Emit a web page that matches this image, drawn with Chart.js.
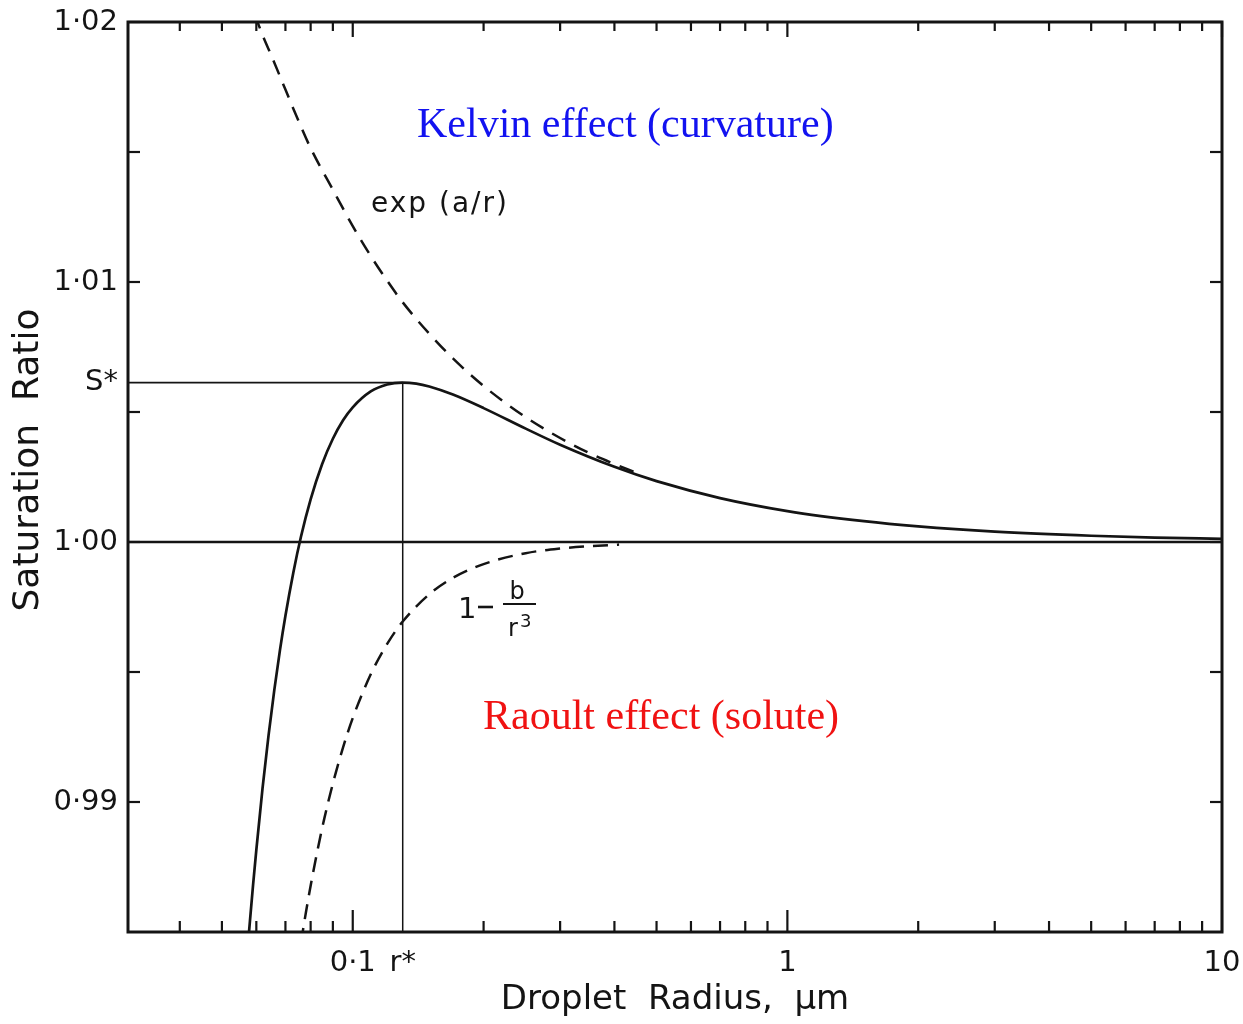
<!DOCTYPE html>
<html>
<head>
<meta charset="utf-8">
<script src="https://cdn.jsdelivr.net/npm/chart.js@4.4.0/dist/chart.umd.min.js"></script>
<style>
  html, body { margin: 0; padding: 0; background: #ffffff; }
  #wrap { width: 1243px; height: 1024px; }
</style>
</head>
<body>
<div id="wrap"><canvas id="c" width="1243" height="1024"></canvas></div>
<script>
// ---- data ----
const radiusKohler = [0.057, 0.0577, 0.058, 0.059, 0.060, 0.062, 0.064, 0.066, 0.068, 0.070, 0.073, 0.076, 0.080, 0.085, 0.090, 0.095, 0.100, 0.110, 0.120, 0.1303, 0.140, 0.150, 0.170, 0.200, 0.250, 0.300, 0.400, 0.500, 0.700, 1.0, 1.5, 2, 3, 5, 7, 10];
const satKohler = [0.98387, 0.98497, 0.98542, 0.98685, 0.98816, 0.99052, 0.99255, 0.99431, 0.99584, 0.99716, 0.99883, 1.00020, 1.00164, 1.00299, 1.00397, 1.00468, 1.00518, 1.00579, 1.00606, 1.00613, 1.00609, 1.00598, 1.00567, 1.00515, 1.00436, 1.00374, 1.00289, 1.00234, 1.00169, 1.00119, 1.00080, 1.00060, 1.00040, 1.00024, 1.00017, 1.00012];

const radiusKelvin = [0.0595, 0.0604, 0.062, 0.065, 0.070, 0.075, 0.080, 0.090, 0.100, 0.110, 0.120, 0.130, 0.150, 0.170, 0.200, 0.250, 0.300, 0.350, 0.400, 0.450];
const satKelvin = [1.02030, 1.02000, 1.01950, 1.01870, 1.01740, 1.01620, 1.01515, 1.01355, 1.01215, 1.01100, 1.01005, 1.00924, 1.00801, 1.00706, 1.00600, 1.00480, 1.00400, 1.00342, 1.00300, 1.00266];

const radiusRaoult = [0.0760, 0.0767, 0.078, 0.080, 0.083, 0.086, 0.090, 0.095, 0.100, 0.110, 0.120, 0.130, 0.150, 0.170, 0.200, 0.250, 0.300, 0.350, 0.410];
const satRaoult = [0.98458, 0.98500, 0.98574, 0.98678, 0.98816, 0.98936, 0.99071, 0.99210, 0.99323, 0.99491, 0.99608, 0.99692, 0.99799, 0.99862, 0.99915, 0.99957, 0.99975, 0.99984, 0.99990];

const rStar = 0.1303;
const sStar = 1.00613;
const unitySat = 1.0;
const radiusRange = [0.0304, 10];
const satRange = [0.985, 1.02];

const xTickValues = [0.1, rStar, 1, 10];
const xTickLabels = ['0·1', 'r*', '1', '10'];
const yTickValues = [0.99, 1.00, sStar, 1.01, 1.02];
const yTickLabels = ['0·99', '1·00', 'S*', '1·01', '1·02'];
const xMajorTicks = [0.1, 1, 10];
const xMinorTicks = [0.04, 0.05, 0.06, 0.07, 0.08, 0.09, 0.2, 0.3, 0.4, 0.5, 0.6, 0.7, 0.8, 0.9, 2, 3, 4, 5, 6, 7, 8, 9];
const yAxisTicks = [0.99, 0.995, 1.00, 1.005, 1.01, 1.015, 1.02];

const xTitle = 'Droplet  Radius,  μm';
const yTitle = 'Saturation  Ratio';
const kelvinText = 'Kelvin effect (curvature)';
const raoultText = 'Raoult effect (solute)';
const expText = 'exp (a/r)';

// ---- build datasets ----
const pts = (xs, ys) => xs.map((v, i) => ({ x: v, y: ys[i] }));
const INK = '#141414';

const datasets = [
  { label: 'Köhler', data: pts(radiusKohler, satKohler), borderColor: INK, borderWidth: 2.7,
    cubicInterpolationMode: 'monotone', tension: 0.4 },
  { label: 'Kelvin', data: pts(radiusKelvin, satKelvin), borderColor: INK, borderWidth: 2.5,
    borderDash: [15, 10], cubicInterpolationMode: 'monotone', tension: 0.4 },
  { label: 'Raoult', data: pts(radiusRaoult, satRaoult), borderColor: INK, borderWidth: 2.5,
    borderDash: [15, 9], cubicInterpolationMode: 'monotone', tension: 0.4 },
  { label: 'unity', data: pts(radiusRange, [unitySat, unitySat]), borderColor: INK, borderWidth: 2.4, tension: 0 },
  { label: 'S*', data: pts([radiusRange[0], rStar], [sStar, sStar]), borderColor: INK, borderWidth: 1.8, tension: 0 },
  { label: 'r*', data: pts([rStar, rStar], [satRange[0], sStar]), borderColor: INK, borderWidth: 1.5, tension: 0 }
];

const decor = {
  id: 'decor',
  afterDatasetsDraw(chart) {
    const { ctx, chartArea: a, scales: { x, y } } = chart;
    const line = (x1, y1, x2, y2) => { ctx.beginPath(); ctx.moveTo(x1, y1); ctx.lineTo(x2, y2); ctx.stroke(); };
    ctx.save();
    ctx.strokeStyle = INK;
    ctx.lineCap = 'butt';
    // frame
    ctx.lineWidth = 3;
    ctx.strokeRect(a.left, a.top, a.right - a.left, a.bottom - a.top);
    // x ticks (inward, top and bottom)
    ctx.lineWidth = 2.2;
    xMinorTicks.forEach(v => {
      const px = x.getPixelForValue(v);
      line(px, a.bottom, px, a.bottom - 11);
      line(px, a.top, px, a.top + 9);
    });
    xMajorTicks.forEach(v => {
      const px = x.getPixelForValue(v);
      line(px, a.bottom, px, a.bottom - 22);
      line(px, a.top, px, a.top + 15);
    });
    // y ticks (inward, left and right)
    yAxisTicks.forEach(v => {
      const py = y.getPixelForValue(v);
      line(a.left, py, a.left + 12, py);
      line(a.right, py, a.right - 12, py);
    });
    // y axis title (rotated)
    ctx.save();
    ctx.fillStyle = INK;
    ctx.font = '36px "DejaVu Sans"';
    ctx.textAlign = 'center';
    ctx.textBaseline = 'middle';
    ctx.translate(29, 460);
    ctx.rotate(-Math.PI / 2);
    ctx.fillText(yTitle, 0, 0);
    ctx.restore();
    // annotations
    ctx.fillStyle = 'rgb(18,18,240)';
    ctx.font = '42px "Liberation Serif", "Times New Roman", serif';
    ctx.textAlign = 'left';
    ctx.textBaseline = 'alphabetic';
    ctx.fillText(kelvinText, 417, 137);
    ctx.fillStyle = 'rgb(240,18,18)';
    ctx.fillText(raoultText, 483, 729);

    ctx.fillStyle = INK;
    ctx.font = '28px "DejaVu Sans"';
    ctx.letterSpacing = '2px';
    ctx.fillText(expText, 371, 212);
    ctx.letterSpacing = '0px';
    // 1 - b / r^3
    ctx.font = '29px "DejaVu Sans"';
    ctx.fillText('1', 458, 618);
    ctx.lineWidth = 2.6;
    line(478, 607, 493, 607);
    ctx.font = '24px "DejaVu Sans"';
    ctx.textAlign = 'center';
    ctx.fillText('b', 517, 599);
    ctx.lineWidth = 2.2;
    line(503, 604, 536, 604);
    ctx.textAlign = 'left';
    ctx.fillText('r', 508, 636);
    ctx.font = '18px "DejaVu Sans"';
    ctx.fillText('3', 520, 627);
    ctx.restore();
  }
};

new Chart(document.getElementById('c'), {
  type: 'line',
  data: { datasets },
  plugins: [decor],
  options: {
    responsive: false,
    devicePixelRatio: 1,
    animation: false,
    parsing: true,
    layout: { padding: { left: 0, top: 22, right: 21, bottom: 0 } },
    elements: { point: { radius: 0, hoverRadius: 0 } },
    plugins: { legend: { display: false }, tooltip: { enabled: false } },
    scales: {
      x: {
        type: 'logarithmic',
        position: 'bottom',
        min: radiusRange[0],
        max: radiusRange[1],
        afterBuildTicks: s => { s.ticks = xTickValues.map(v => ({ value: v })); },
        afterFit: s => { s.height = 92; s.paddingLeft = 0; s.paddingRight = 0; },
        ticks: {
          autoSkip: false, maxRotation: 0, minRotation: 0,
          font: { family: 'DejaVu Sans', size: 29 }, color: INK, padding: 14,
          callback: (v, i) => xTickLabels[i]
        },
        grid: { display: false, drawTicks: false },
        border: { display: false },
        title: { display: true, text: xTitle, color: INK,
                 font: { family: 'DejaVu Sans', size: 34 }, padding: { top: 0, bottom: 3 } }
      },
      y: {
        type: 'linear',
        position: 'left',
        min: satRange[0],
        max: satRange[1],
        afterBuildTicks: s => { s.ticks = yTickValues.map(v => ({ value: v })); },
        afterFit: s => { s.width = 128; s.paddingTop = 0; s.paddingBottom = 0; },
        ticks: {
          autoSkip: false,
          font: { family: 'DejaVu Sans', size: 29 }, color: INK, padding: 10,
          callback: (v, i) => yTickLabels[i]
        },
        grid: { display: false, drawTicks: false },
        border: { display: false },
        title: { display: false, text: yTitle }
      }
    }
  }
});
</script>
</body>
</html>
